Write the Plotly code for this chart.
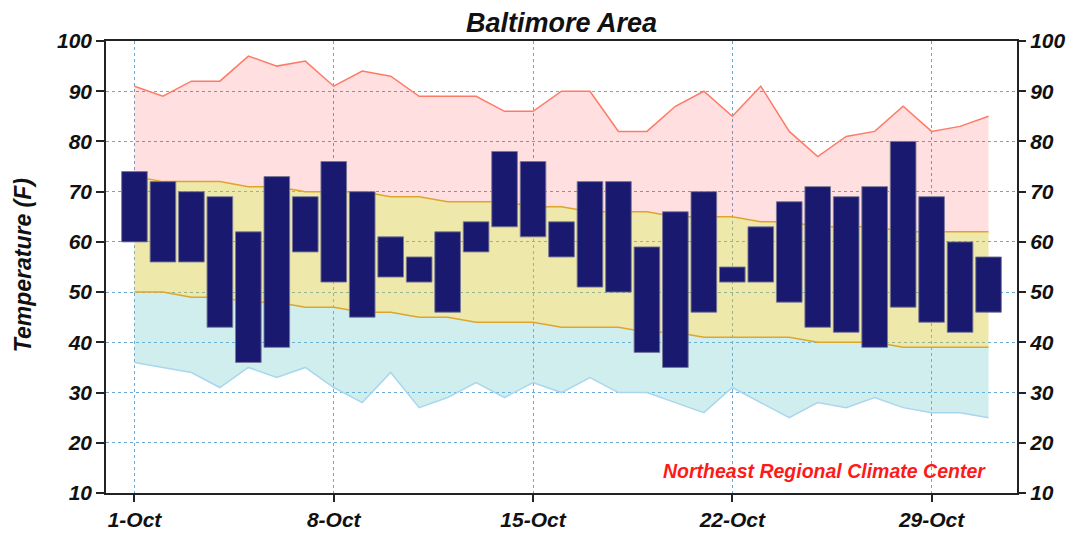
import plotly.graph_objects as go

days = list(range(1, 32))
tick_days = [1, 8, 15, 22, 29]
tick_labels = ["1-Oct", "8-Oct", "15-Oct", "22-Oct", "29-Oct"]

obs_high = [74, 72, 70, 69, 62, 73, 69, 76, 70, 61, 57, 62, 64, 78, 76, 64, 72, 72, 59, 66, 70, 55, 63, 68, 71, 69, 71, 80, 69, 60, 57]
obs_low = [60, 56, 56, 43, 36, 39, 58, 52, 45, 53, 52, 46, 58, 63, 61, 57, 51, 50, 38, 35, 46, 52, 52, 48, 43, 42, 39, 47, 44, 42, 46]
record_high = [91, 89, 92, 92, 97, 95, 96, 91, 94, 93, 89, 89, 89, 86, 86, 90, 90, 82, 82, 87, 90, 85, 91, 82, 77, 81, 82, 87, 82, 83, 85]
normal_high = [73, 72, 72, 72, 71, 71, 70, 70, 70, 69, 69, 68, 68, 68, 67, 67, 66, 66, 66, 65, 65, 65, 64, 64, 63, 63, 63, 62, 62, 62, 62]
normal_low = [50, 50, 49, 49, 48, 48, 47, 47, 46, 46, 45, 45, 44, 44, 44, 43, 43, 43, 42, 42, 41, 41, 41, 41, 40, 40, 40, 39, 39, 39, 39]
record_low = [36, 35, 34, 31, 35, 33, 35, 31, 28, 34, 27, 29, 32, 29, 32, 30, 33, 30, 30, 28, 26, 31, 28, 25, 28, 27, 29, 27, 26, 26, 25]

FONT = "Liberation Sans"

fig = go.Figure()
fig.add_trace(go.Scatter(x=days, y=record_low, mode="lines",
                         line=dict(color="#a9d6ef", width=1.5), hoverinfo="skip", showlegend=False))
fig.add_trace(go.Scatter(x=days, y=normal_low, mode="lines", fill="tonexty",
                         fillcolor="rgba(98,198,198,0.30)",
                         line=dict(color="#dfa52a", width=1.5), showlegend=False))
fig.add_trace(go.Scatter(x=days, y=normal_high, mode="lines", fill="tonexty",
                         fillcolor="rgba(212,197,42,0.40)",
                         line=dict(color="#dfa52a", width=1.5), showlegend=False))
fig.add_trace(go.Scatter(x=days, y=record_high, mode="lines", fill="tonexty",
                         fillcolor="rgba(255,0,0,0.125)",
                         line=dict(color="#ff7a66", width=1.5), showlegend=False))
# bars on the overlaid (right-hand) axis so they sit above the shaded bands
fig.add_trace(go.Bar(x=days, y=[h - l for h, l in zip(obs_high, obs_low)], base=obs_low,
                     xaxis="x", yaxis="y2", width=0.9,
                     marker=dict(color="#191970", line=dict(color="rgba(120,120,150,0.9)", width=1)),
                     showlegend=False))

tickfont = dict(family=FONT, size=21, color="#111")
yticks = list(range(10, 101, 10))
yticktext = [f"<b><i>{v}</i></b>" for v in yticks]
fig.update_layout(
    width=1077, height=533,
    margin=dict(l=98, r=68, t=33, b=48, autoexpand=False),
    paper_bgcolor="white", plot_bgcolor="white",
    title=dict(text="<b><i>Baltimore Area</i></b>", x=0.5, xref="paper", xanchor="center",
               y=0.9719, yanchor="middle",
               font=dict(family=FONT, size=27, color="#111")),
    xaxis=dict(range=[0, 32], tickvals=tick_days, ticktext=[f"<b><i>{t}</i></b>" for t in tick_labels],
               ticks="outside", ticklen=7, tickwidth=1.5, tickcolor="#222",
               showline=True, linecolor="#222", linewidth=1.5, mirror=True,
               showgrid=True, gridcolor="#6aa8d8", griddash="dot", gridwidth=1,
               zeroline=False, tickfont=tickfont, automargin=False),
    yaxis=dict(range=[10, 100], tickvals=yticks, ticktext=yticktext,
               ticks="outside", ticklen=8, tickwidth=1.5, tickcolor="#222",
               showline=True, linecolor="#222", linewidth=1.5, mirror=True,
               showgrid=True, gridcolor="#6aa8d8", griddash="dot", gridwidth=1,
               zeroline=False, tickfont=tickfont, automargin=False),
    yaxis2=dict(range=[10, 100], overlaying="y", side="right", tickvals=yticks, ticktext=yticktext,
                ticks="outside", ticklen=8, tickwidth=1.5, tickcolor="#222",
                showgrid=False, zeroline=False, tickfont=tickfont, showline=False, automargin=False),
    bargap=0.1,
    annotations=[
        dict(text="<b><i>Northeast Regional Climate Center</i></b>", x=30.98, y=14.4,
             xref="x", yref="y", xanchor="right", yanchor="middle", showarrow=False,
             font=dict(family=FONT, size=19.5, color="#ff1a1a")),
        dict(text="<b><i>Temperature (F)</i></b>", x=-0.091, y=0.504, xref="paper", yref="paper",
             xanchor="center", yanchor="middle", textangle=-90, showarrow=False,
             font=dict(family=FONT, size=23, color="#111")),
    ],
)

fig.write_html("out.html")
